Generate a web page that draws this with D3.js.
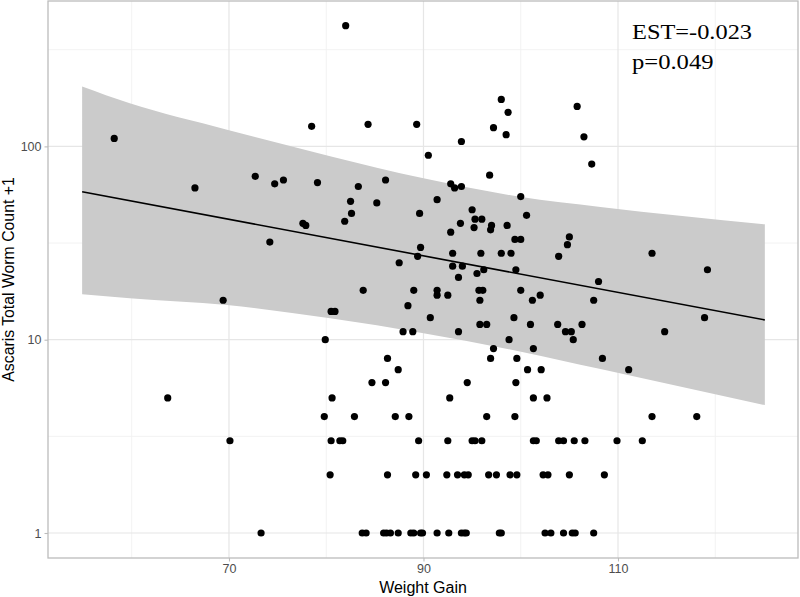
<!DOCTYPE html>
<html>
<head>
<meta charset="utf-8">
<script src="https://cdn.jsdelivr.net/npm/d3@7/dist/d3.min.js"></script>
<style>
  html, body { margin: 0; padding: 0; background: #fff; }
  svg { display: block; }
</style>
</head>
<body>
<svg id="chart" width="800" height="597"></svg>
<script>
// ---- Data ----
const weightGain = [
  58.2, 66.5, 63.7, 82.0, 78.5, 84.3, 72.7, 74.7, 75.6, 79.1,
  83.3, 86.1, 82.5, 85.2, 82.6, 81.9, 77.6, 77.9, 74.2,
  98.0, 98.7, 97.2, 98.5, 89.3, 93.9, 90.5, 105.8, 106.5, 107.3,
  96.8, 92.8, 93.2, 93.9, 100.0, 91.4, 89.6, 95.0, 100.6, 95.3,
  96.0, 93.8, 95.2, 97.0, 96.9, 98.6, 92.8, 99.4, 100.0, 105.0,
  104.8, 89.7,
  87.5, 83.8, 69.4, 80.5, 80.9, 79.9,
  93.0, 95.9, 98.0, 99.0, 103.9, 89.4, 93.0, 94.0, 93.6, 95.5,
  96.2, 99.5, 108.0, 89.0, 91.4, 91.4, 92.5, 95.7, 96.1, 95.8,
  100.0, 102.0, 101.2, 107.5, 88.4, 90.7, 99.3, 95.8, 96.5, 101.0,
  103.8, 106.3, 87.9, 88.9, 93.6, 104.6, 105.2, 105.4, 98.8,
  113.5, 119.2, 118.9, 114.8,
  97.2, 101.3,
  86.3, 96.9, 99.6, 108.4,
  87.4, 100.7, 102.1, 111.1,
  84.7, 86.1, 94.5, 99.5,
  80.6, 92.7, 101.3, 102.7,
  79.8, 82.9, 87.1, 88.5, 96.5, 99.4, 113.5, 118.1,
  70.1, 80.5, 81.4, 81.7, 89.5, 92.5, 95.0, 95.3, 96.0, 101.3,
  101.6, 103.9, 104.4, 105.5, 106.6, 109.9, 112.5,
  80.4, 86.3, 89.2, 90.3, 92.4, 93.5, 94.2, 94.6, 96.7, 97.5,
  98.9, 99.6, 102.3, 102.8, 105.0, 108.6,
  73.3, 83.7, 84.1, 85.9, 86.2, 86.6, 87.4, 88.7, 89.0, 89.7,
  89.9, 91.4, 92.6, 93.9, 94.2, 94.4, 97.8, 98.0, 102.5, 103.1,
  104.4, 105.3, 105.6, 107.5
];
const wormCount = [
  110, 61, 5, 421, 127, 130, 70, 64, 67, 65,
  62, 67, 52, 51, 45, 41, 40, 39, 32,
  175, 150, 125, 115, 130, 106, 90, 161, 112, 81,
  71, 64, 61, 62, 55, 53, 45, 47, 44, 42,
  42, 40, 38, 39, 37, 39, 36, 33, 33, 34,
  31, 30,
  25, 18, 16, 14, 14, 10,
  28, 28, 28, 28, 27, 27, 24, 24, 21, 22,
  23, 23, 20, 18, 18, 17, 17, 18, 18, 16,
  18, 17, 16, 16, 15, 13, 13, 12, 12, 12,
  12, 12, 11, 11, 11, 11, 11, 10, 10,
  28, 23, 13, 11,
  9, 9,
  8, 8, 8, 8,
  7, 7, 7, 7,
  6, 6, 6, 6,
  5, 5, 5, 5,
  4, 4, 4, 4, 4, 4, 4, 4,
  3, 3, 3, 3, 3, 3, 3, 3, 3, 3,
  3, 3, 3, 3, 3, 3, 3,
  2, 2, 2, 2, 2, 2, 2, 2, 2, 2,
  2, 2, 2, 2, 2, 2,
  1, 1, 1, 1, 1, 1, 1, 1, 1, 1,
  1, 1, 1, 1, 1, 1, 1, 1, 1, 1,
  1, 1, 1, 1
];

// fitted line end points
const fitX = [54.9, 125.1];
const fitY = [58.3, 12.65];

// confidence band, read at several x positions
const bandX = [54.9, 59.8, 69.8, 80.4, 90.0, 99.9, 108.2, 125.1];
const bandUpper = [204, 167, 122, 89, 68.4, 54.9, 48.6, 39.5];
const bandLower = [17.2, 16.4, 15.1, 12.9, 10.8, 8.7, 7.05, 4.59];

const xTicks = [70, 90, 110];
const xMinor = [60, 80, 100, 120];
const yTicks = [1, 10, 100];
const yMinor = [Math.sqrt(10), Math.sqrt(1000), Math.sqrt(100000)];
const xTitle = "Weight Gain";
const yTitle = "Ascaris Total Worm Count +1";
const annotation = ["EST=-0.023", "p=0.049"];

// ---- Layout ----
const panel = { left: 48, right: 798, top: 1, bottom: 558 };
const svg = d3.select("#chart");

const x = d3.scaleLinear().domain([51.39, 128.51]).range([panel.left, panel.right]);
const y = d3.scaleLog().domain([0.7425, 565]).range([panel.bottom, panel.top]);

// panel background
svg.append("rect")
  .attr("x", panel.left).attr("y", panel.top)
  .attr("width", panel.right - panel.left).attr("height", panel.bottom - panel.top)
  .attr("fill", "#fff");

// grid
const grid = svg.append("g");
grid.selectAll(".xminor").data(xMinor).join("line")
  .attr("x1", d => x(d)).attr("x2", d => x(d))
  .attr("y1", panel.top).attr("y2", panel.bottom)
  .attr("stroke", "#f1f1f1").attr("stroke-width", 0.9);
grid.selectAll(".yminor").data(yMinor).join("line")
  .attr("y1", d => y(d)).attr("y2", d => y(d))
  .attr("x1", panel.left).attr("x2", panel.right)
  .attr("stroke", "#f1f1f1").attr("stroke-width", 0.9);
grid.selectAll(".xmajor").data(xTicks).join("line")
  .attr("x1", d => x(d)).attr("x2", d => x(d))
  .attr("y1", panel.top).attr("y2", panel.bottom)
  .attr("stroke", "#e6e6e6").attr("stroke-width", 1.2);
grid.selectAll(".ymajor").data(yTicks).join("line")
  .attr("y1", d => y(d)).attr("y2", d => y(d))
  .attr("x1", panel.left).attr("x2", panel.right)
  .attr("stroke", "#e6e6e6").attr("stroke-width", 1.2);

// confidence band
const bandData = bandX.map((d, i) => ({ x: d, lo: bandLower[i], hi: bandUpper[i] }));
svg.append("path")
  .datum(bandData)
  .attr("fill", "#cbcbcb")
  .attr("d", d3.area()
    .x(d => x(d.x)).y0(d => y(d.lo)).y1(d => y(d.hi))
    .curve(d3.curveMonotoneX));

// points
svg.append("g").selectAll("circle")
  .data(weightGain.map((d, i) => [d, wormCount[i]]))
  .join("circle")
  .attr("cx", d => x(d[0])).attr("cy", d => y(d[1]))
  .attr("r", 3.6).attr("fill", "#000");

// fit line
svg.append("path")
  .datum(fitX.map((d, i) => [d, fitY[i]]))
  .attr("fill", "none").attr("stroke", "#000").attr("stroke-width", 1.6)
  .attr("d", d3.line().x(d => x(d[0])).y(d => y(d[1])));

// panel border
svg.append("rect")
  .attr("x", panel.left).attr("y", panel.top)
  .attr("width", panel.right - panel.left).attr("height", panel.bottom - panel.top)
  .attr("fill", "none").attr("stroke", "#bcbcbc").attr("stroke-width", 1.3);

// axes
const xAxis = svg.append("g")
  .attr("transform", `translate(0,${panel.bottom})`)
  .call(d3.axisBottom(x).tickValues(xTicks).tickSize(3.5).tickPadding(3).tickFormat(d3.format("d")));
const yAxis = svg.append("g")
  .attr("transform", `translate(${panel.left},0)`)
  .call(d3.axisLeft(y).tickValues(yTicks).tickSize(3.5).tickPadding(3).tickFormat(d3.format("d")));
[xAxis, yAxis].forEach(a => {
  a.select(".domain").remove();
  a.selectAll(".tick line").attr("stroke", "#bcbcbc").attr("stroke-width", 1.1);
  a.selectAll(".tick text")
    .attr("fill", "#4d4d4d")
    .style("font-family", "'Liberation Sans', Arial, sans-serif")
    .style("font-size", "12.5px");
});

// titles
svg.append("text")
  .attr("x", (panel.left + panel.right) / 2).attr("y", 593)
  .attr("text-anchor", "middle")
  .style("font-family", "'Liberation Sans', Arial, sans-serif")
  .style("font-size", "16px").attr("fill", "#000")
  .text(xTitle);
svg.append("text")
  .attr("transform", `translate(13.5,${(panel.top + panel.bottom) / 2}) rotate(-90)`)
  .attr("text-anchor", "middle")
  .style("font-family", "'Liberation Sans', Arial, sans-serif")
  .style("font-size", "15.8px").attr("fill", "#000")
  .text(yTitle);

// annotation
const annWidths = [120, 81.5];
svg.append("g").selectAll("text").data(annotation).join("text")
  .attr("x", 632).attr("y", (d, i) => 39 + i * 30)
  .attr("textLength", (d, i) => annWidths[i])
  .attr("lengthAdjust", "spacingAndGlyphs")
  .style("font-family", "'Liberation Serif', 'Times New Roman', serif")
  .style("font-size", "21.5px").attr("fill", "#000")
  .text(d => d);
</script>
</body>
</html>
